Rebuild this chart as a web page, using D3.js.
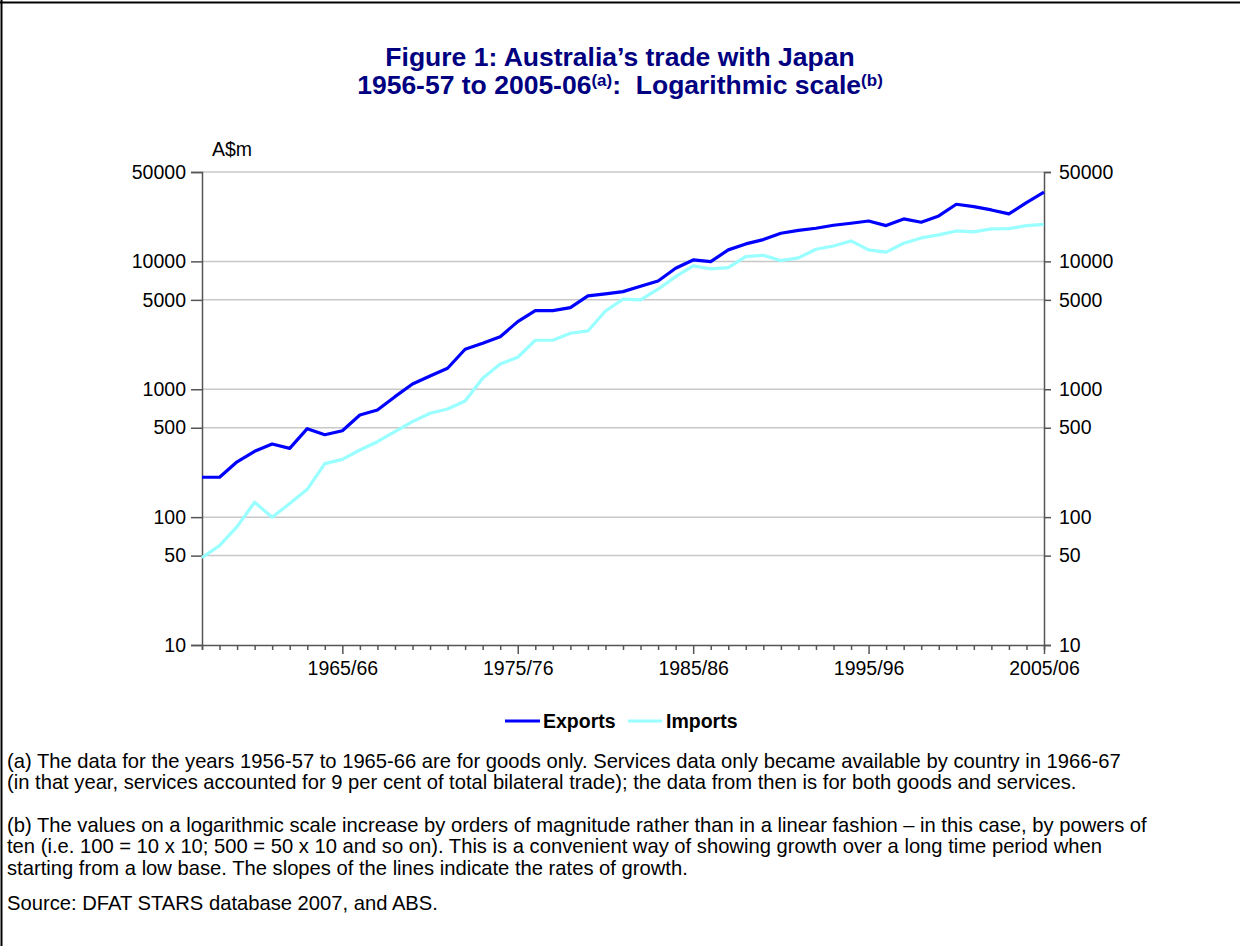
<!DOCTYPE html>
<html><head><meta charset="utf-8">
<script src="https://cdn.jsdelivr.net/npm/d3@7"></script>
<style>
body{margin:0;background:#fff;}
svg{display:block;font-family:"Liberation Sans",Arial,sans-serif;}
text{white-space:pre;}
</style></head>
<body><svg id="c" width="1240" height="946"></svg>
<script>
const years = ["1957/58","1958/59","1959/60","1960/61","1961/62","1962/63","1963/64","1964/65","1965/66","1966/67","1967/68","1968/69","1969/70","1970/71","1971/72","1972/73","1973/74","1974/75","1975/76","1976/77","1977/78","1978/79","1979/80","1980/81","1981/82","1982/83","1983/84","1984/85","1985/86","1986/87","1987/88","1988/89","1989/90","1990/91","1991/92","1992/93","1993/94","1994/95","1995/96","1996/97","1997/98","1998/99","1999/00","2000/01","2001/02","2002/03","2003/04","2004/05","2005/06"];
const exportsVals = [205,205,271,327,373,345,492,441,474,629,689,875,1099,1271,1459,2056,2290,2577,3380,4121,4121,4345,5368,5562,5800,6400,7033,8837,10260,9953,12300,13700,14800,16600,17500,18150,19170,19880,20700,19040,21480,20240,22660,27980,26820,25250,23500,28830,34760];
const importsVals = [48.2,59.8,84.2,130.6,99.7,128,165,262,283,335,389,466,558,649,701,810,1219,1577,1779,2416,2416,2743,2858,4095,5059,5000,6057,7600,9210,8730,8940,10890,11170,10140,10640,12440,13200,14450,12300,11800,13870,15250,16100,17300,17000,17950,18040,19040,19500];
const yTicks = [10,50,100,500,1000,5000,10000,50000];
const xLabelled = ["1965/66","1975/76","1985/86","1995/96","2005/06"];
const seriesNames = ["Exports","Imports"];
const seriesColors = ["#0000ff","#99ffff"];

const svg = d3.select("#c");
const L = 202, R = 1044, T = 172, B = 645;
const x = d3.scalePoint().domain(years).range([L, R]);
const y = d3.scaleLog().domain([10, 50000]).range([B, T]);

// frame
svg.append("line").attr("x1",0).attr("x2",1240).attr("y1",2.5).attr("y2",2.5).attr("stroke","#000").attr("stroke-width",2);
svg.append("line").attr("x1",1.5).attr("x2",1.5).attr("y1",0).attr("y2",946).attr("stroke","#000").attr("stroke-width",2);

// title
const title = svg.append("g").attr("fill","#000080").attr("font-weight","bold").attr("font-size",26.5).attr("text-anchor","middle");
title.append("text").attr("x",620).attr("y",66).text("Figure 1: Australia\u2019s trade with Japan");
const t2 = title.append("text").attr("x",620).attr("y",94);
t2.append("tspan").text("1956-57 to 2005-06");
t2.append("tspan").attr("font-size",17).attr("dy",-8).text("(a)");
t2.append("tspan").attr("dy",8).text(":  Logarithmic scale");
t2.append("tspan").attr("font-size",17).attr("dy",-8).text("(b)");

// gridlines
svg.append("g").selectAll("line").data(yTicks.filter(d=>d>10)).join("line")
  .attr("x1",L).attr("x2",R).attr("y1",d=>y(d)).attr("y2",d=>y(d))
  .attr("stroke","#c8c8c8").attr("stroke-width",1.5);

// y axes
const fmt = d => String(d);
const yl = svg.append("g").attr("transform",`translate(${L},0)`)
  .call(d3.axisLeft(y).tickValues(yTicks).tickFormat(fmt).tickSizeOuter(0).tickSize(11).tickPadding(5));
const yr = svg.append("g").attr("transform",`translate(${R},0)`)
  .call(d3.axisRight(y).tickValues(yTicks).tickFormat(fmt).tickSizeOuter(0).tickSize(7).tickPadding(8));
[yl,yr].forEach(g=>{
  g.select(".domain").attr("stroke","#555").attr("stroke-width",1.5);
  g.selectAll(".tick line").attr("stroke","#555").attr("stroke-width",1.5);
  g.selectAll("text").attr("font-size",19.5).attr("fill","#000").attr("font-family","Liberation Sans, Arial, sans-serif");
});

// x axis
const xa = svg.append("g").attr("transform",`translate(0,${B})`)
  .call(d3.axisBottom(x).tickValues(years).tickFormat(d=>xLabelled.includes(d)?d:"").tickSizeOuter(0).tickSize(5).tickPadding(10));
xa.select(".domain").attr("stroke","#555").attr("stroke-width",1.5);
xa.selectAll(".tick line").attr("stroke","#555").attr("stroke-width",1.5)
  .attr("y2",d=>xLabelled.includes(d)?9:5);
xa.selectAll("text").attr("font-size",19.5).attr("fill","#000").attr("font-family","Liberation Sans, Arial, sans-serif").attr("dy","0.71em").attr("y",16);

svg.append("text").attr("x",212).attr("y",156).attr("font-size",19.5).text("A$m");

// lines
const line = d3.line().x((d,i)=>x(years[i])).y(d=>y(d));
[exportsVals, importsVals].forEach((vals,k)=>{
  svg.append("path").datum(vals).attr("d",line).attr("fill","none")
    .attr("stroke",seriesColors[k]).attr("stroke-width",3.2).attr("stroke-linejoin","round");
});

// legend
const leg = [{x1:505,x2:540,tx:543},{x1:628,x2:662,tx:666}];
seriesNames.forEach((n,k)=>{
  svg.append("line").attr("x1",leg[k].x1).attr("x2",leg[k].x2).attr("y1",721).attr("y2",721)
    .attr("stroke",seriesColors[k]).attr("stroke-width",3.2);
  svg.append("text").attr("x",leg[k].tx).attr("y",728).attr("font-size",19.5).attr("font-weight","bold").text(n);
});

// footnotes
const notes = [
 ["(a) The data for the years 1956-57 to 1965-66 are for goods only. Services data only became available by country in 1966-67", 768],
 ["(in that year, services accounted for 9 per cent of total bilateral trade); the data from then is for both goods and services.", 789],
 ["(b) The values on a logarithmic scale increase by orders of magnitude rather than in a linear fashion \u2013 in this case, by powers of", 832],
 ["ten (i.e. 100 = 10 x 10; 500 = 50 x 10 and so on). This is a convenient way of showing growth over a long time period when", 853],
 ["starting from a low base. The slopes of the lines indicate the rates of growth.", 875],
 ["Source: DFAT STARS database 2007, and ABS.", 910]
];
svg.append("g").selectAll("text").data(notes).join("text")
  .attr("x",7).attr("y",d=>d[1]).attr("font-size",20.2).attr("fill","#000").text(d=>d[0]);
</script></body></html>
